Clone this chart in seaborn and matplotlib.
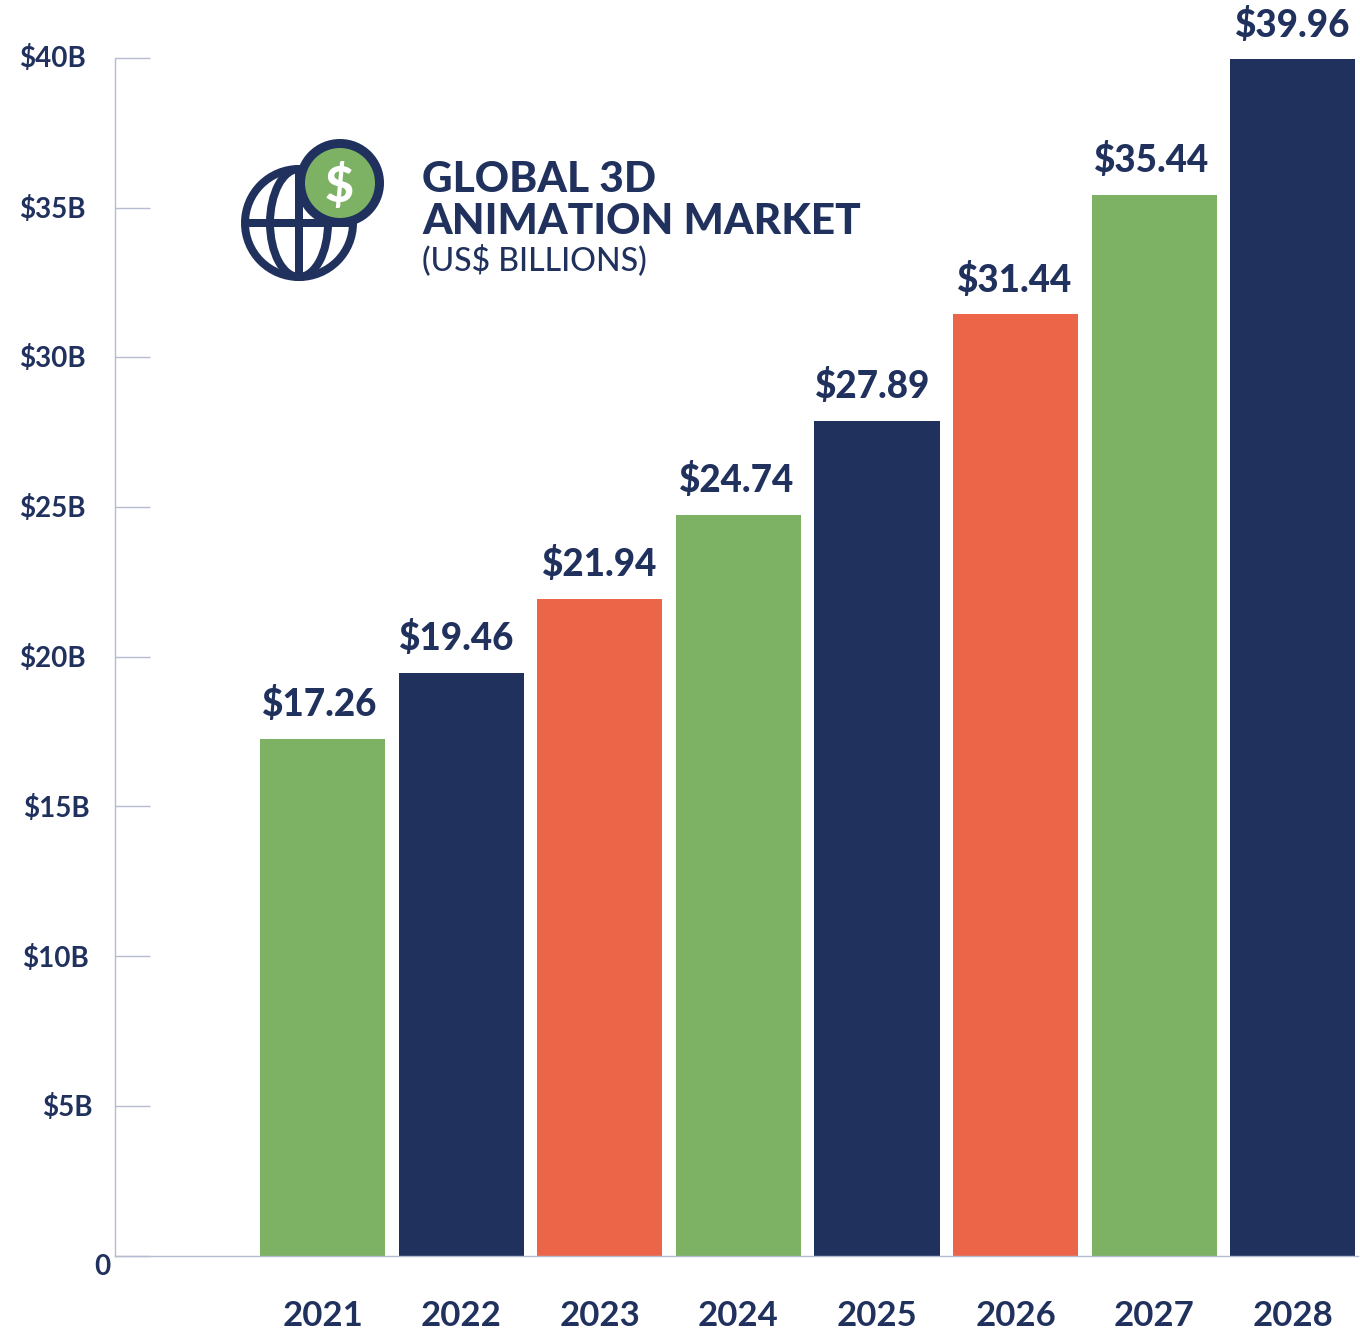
import matplotlib
matplotlib.use("Agg")
import matplotlib.pyplot as plt
from matplotlib.patches import Circle, Ellipse
from matplotlib.transforms import ScaledTranslation
import seaborn as sns

years = ["2021", "2022", "2023", "2024", "2025", "2026", "2027", "2028"]
values = [17.26, 19.46, 21.94, 24.74, 27.89, 31.44, 35.44, 39.96]
value_labels = ["$17.26", "$19.46", "$21.94", "$24.74", "$27.89", "$31.44", "$35.44", "$39.96"]
bar_colors = ["#7DB163", "#21315E", "#EC6549", "#7DB163", "#21315E", "#EC6549", "#7DB163", "#21315E"]
y_ticks = [0, 5, 10, 15, 20, 25, 30, 35, 40]
y_tick_labels = ["0", "$5B", "$10B", "$15B", "$20B", "$25B", "$30B", "$35B", "$40B"]
y_label_dx = [25, 7, 3, 4, 0, 0, 0, 0, 0]
y_label_dy = [-9, 1, 0, 0, 1, 1, 1, 1, 2]
value_label_dx = [-3, -4, 0, -2, -4, -1, -3, 0]

NAVY = "#21315E"
GREEN = "#7DB163"
AXIS = "#B7BCD0"
W, H = 1360, 1343
FONT = ["Lato", "DejaVu Sans"]

sns.set_theme(style="white")
plt.rcParams["font.family"] = FONT

fig = plt.figure(figsize=(W / 100, H / 100), dpi=100, facecolor="white")
ax = fig.add_axes([115 / W, (H - 1255.5) / H, (1358 - 115) / W, (1255.5 - 58) / H])

sns.barplot(x=years, y=values, hue=years, palette=bar_colors, order=years, hue_order=years,
            legend=False, width=0.902, saturation=1, linewidth=0, ax=ax)

ax.set_xlim(-1.497, 7.47)
ax.set_ylim(0, 40)
ax.set_xlabel("")
ax.set_ylabel("")
ax.set_yticks(y_ticks)
ax.set_yticklabels(y_tick_labels, color=NAVY, fontsize=20, fontweight="bold")
ax.tick_params(axis="y", direction="in", length=25, width=1, color=AXIS, pad=21, left=True)
ax.tick_params(axis="x", length=0, pad=32, labelsize=25, labelcolor=NAVY)
for lab in ax.get_xticklabels():
    lab.set_fontweight("bold")
for lab, dx, dy in zip(ax.get_yticklabels(), y_label_dx, y_label_dy):
    lab.set_transform(lab.get_transform() + ScaledTranslation(dx / 100, dy / 100, fig.dpi_scale_trans))
for s in ("top", "right"):
    ax.spines[s].set_visible(False)
for s in ("left", "bottom"):
    ax.spines[s].set_color(AXIS)
    ax.spines[s].set_linewidth(1)

for i, container in enumerate(ax.containers):
    anns = ax.bar_label(container, labels=[value_labels[i]], padding=12, color=NAVY,
                        fontsize=26.5, fontweight="black", clip_on=False)
    for a in anns:
        a.xyann = (value_label_dx[i] * 0.72, 12)

# overlay in pixel coordinates for the title block and icon
ov = fig.add_axes([0, 0, 1, 1], facecolor="none")
ov.set_xlim(0, W)
ov.set_ylim(H, 0)
ov.axis("off")
lw = 8 * 0.72
ov.add_patch(Circle((299, 223), 54, fc="none", ec=NAVY, lw=lw))
ov.add_patch(Ellipse((299, 223), 58, 108, fc="none", ec=NAVY, lw=lw))
ov.plot([299, 299], [169, 277], color=NAVY, lw=lw, solid_capstyle="butt")
ov.plot([245, 353], [223, 223], color=NAVY, lw=lw, solid_capstyle="butt")
ov.add_patch(Circle((340, 183), 39.5, fc=GREEN, ec=NAVY, lw=9 * 0.72, zorder=3))
ov.text(339, 183, "$", color="white", fontsize=36, fontweight="black", ha="center", va="center_baseline", zorder=4)

ov.text(422, 192, "GLOBAL 3D", color=NAVY, fontsize=30.5, fontweight="black", ha="left", va="baseline")
ov.text(422, 234, "ANIMATION MARKET", color=NAVY, fontsize=30.5, fontweight="black", ha="left", va="baseline")
ov.text(422, 270, "(US$ BILLIONS)", color=NAVY, fontsize=23, fontweight="medium", ha="left", va="baseline")

fig.savefig("out.png", dpi=100, facecolor="white")
